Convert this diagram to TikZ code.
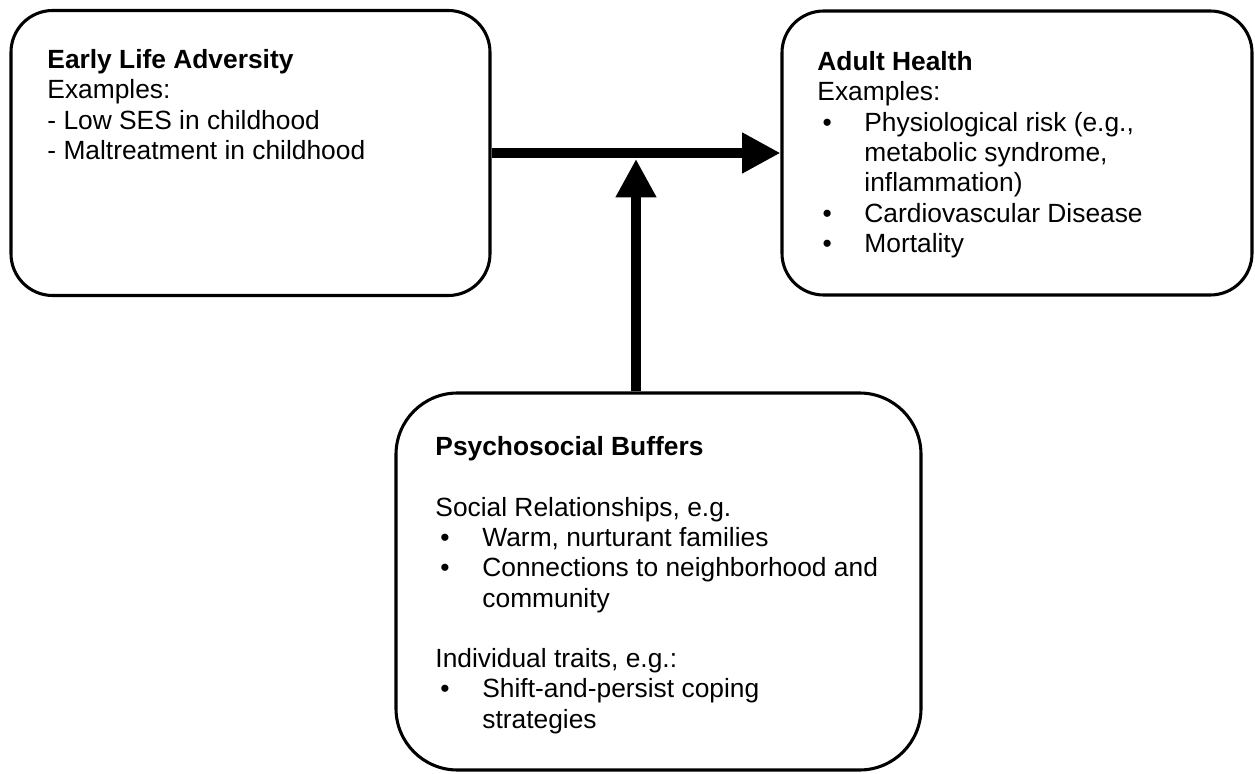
\documentclass[tikz,border=0pt]{standalone}
\usepackage{fontspec}
\setmainfont{Liberation Sans}
\usepackage{tikz}
\usetikzlibrary{arrows.meta}

\newcommand{\pxu}{0.4554pt}
\newcommand{\bul}[1]{\makebox[21.4pt][l]{\hspace*{2.3pt}•}#1}
\newcommand{\cnt}[1]{\hspace*{21.4pt}#1}

\tikzset{
  box/.style={rectangle, draw, line width=1.4pt},
  txt/.style={anchor=north west, inner sep=0pt, align=left,
              font=\fontsize{12pt}{13.8pt}\selectfont},
  flow/.style={line width=4.3pt, -{Triangle[length=17.5pt,width=17.5pt]}}
}

\begin{document}
\begin{tikzpicture}[x=\pxu, y=-\pxu]
            \useasboundingbox (0,0) rectangle (1255,774);
            % the three boxes
            \node (adv) at (250.5, 153) [box, minimum width=479*\pxu, minimum height=285*\pxu, rounded corners=19pt] {};
            \node (health) at (1017, 153) [box, minimum width=470*\pxu, minimum height=284*\pxu, rounded corners=19pt] {};
            \node (buf) at (658.5, 581.5) [box, minimum width=525*\pxu, minimum height=377*\pxu, rounded corners=28pt] {};
            % texts
            \node (advtext) at (47, 49) [txt] {\textbf{Early Life Adversity}\\
                Examples:\\
                - Low SES in childhood\\
                - Maltreatment in childhood};
            \node (healthtext) at (817, 51) [txt] {\textbf{Adult Health}\\
                Examples:\\
                \bul{Physiological risk (e.g.,}\\
                \cnt{metabolic syndrome,}\\
                \cnt{inflammation)}\\
                \bul{Cardiovascular Disease}\\
                \bul{Mortality}};
            \node (buftext) at (435, 436) [txt] {\textbf{Psychosocial Buffers}\\[13.8pt]
                Social Relationships, e.g.\\
                \bul{Warm, nurturant families}\\
                \bul{Connections to neighborhood and}\\
                \cnt{community}\\[13.8pt]
                Individual traits, e.g.:\\
                \bul{Shift-and-persist coping}\\
                \cnt{strategies}};
            % arrows
            \coordinate (join) at (636, 159);
            \draw [flow] (adv) edge (health);
            \draw [flow] (join |- buf.north) -- (join);
        \end{tikzpicture}
\end{document}
